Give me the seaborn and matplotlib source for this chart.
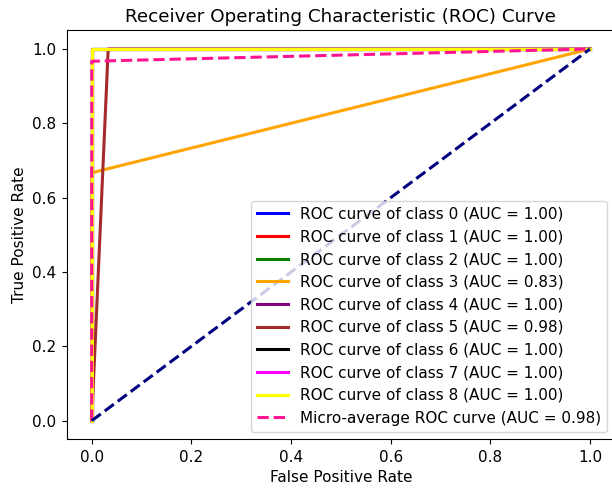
import matplotlib
matplotlib.use("Agg")
import matplotlib.pyplot as plt
import seaborn as sns
import pandas as pd

class_names = ["0", "1", "2", "3", "4", "5", "6", "7", "8"]
class_colors = ["blue", "red", "green", "orange", "purple", "brown", "black", "magenta", "yellow"]
class_auc = [1.00, 1.00, 1.00, 0.83, 1.00, 0.98, 1.00, 1.00, 1.00]
class_fpr = [
    [0.0, 0.0, 1.0],
    [0.0, 0.0, 1.0],
    [0.0, 0.0, 1.0],
    [0.0, 0.0, 1.0],
    [0.0, 0.0, 1.0],
    [0.0, 0.0, 0.033, 1.0],
    [0.0, 0.0, 1.0],
    [0.0, 0.0, 1.0],
    [0.0, 0.0, 1.0],
]
class_tpr = [
    [0.0, 1.0, 1.0],
    [0.0, 1.0, 1.0],
    [0.0, 1.0, 1.0],
    [0.0, 0.667, 1.0],
    [0.0, 1.0, 1.0],
    [0.0, 0.0, 1.0, 1.0],
    [0.0, 1.0, 1.0],
    [0.0, 1.0, 1.0],
    [0.0, 1.0, 1.0],
]
micro_fpr = [0.0, 0.0, 1.0]
micro_tpr = [0.0, 0.967, 1.0]
micro_auc = 0.98
chance_x = [0.0, 1.0]
chance_y = [0.0, 1.0]

plt.rcParams["font.size"] = 11
plt.rcParams["xtick.major.size"] = 3.9
plt.rcParams["ytick.major.size"] = 3.9

fig = plt.figure(figsize=(6.12, 4.91), dpi=100)
ax = fig.add_axes([0.1092, 0.1053, 0.8956, 0.8328])

LW = 2.2
for name, col, auc, fx, ty in zip(class_names, class_colors, class_auc, class_fpr, class_tpr):
    df = pd.DataFrame({"fpr": fx, "tpr": ty})
    sns.lineplot(data=df, x="fpr", y="tpr", ax=ax, color=col, lw=LW,
                 sort=False, estimator=None,
                 label=f"ROC curve of class {name} (AUC = {auc:.2f})")

dfm = pd.DataFrame({"fpr": micro_fpr, "tpr": micro_tpr})
sns.lineplot(data=dfm, x="fpr", y="tpr", ax=ax, color="deeppink", lw=LW,
             linestyle="--", sort=False, estimator=None,
             label=f"Micro-average ROC curve (AUC = {micro_auc:.2f})")

dfc = pd.DataFrame({"x": chance_x, "y": chance_y})
sns.lineplot(data=dfc, x="x", y="y", ax=ax, color="navy", lw=LW, linestyle="--",
             sort=False, estimator=None)

ax.set_xlim(-0.05, 1.05)
ax.set_ylim(-0.05, 1.05)
ax.set_xlabel("False Positive Rate")
ax.set_ylabel("True Positive Rate")
ax.set_title("Receiver Operating Characteristic (ROC) Curve")
ax.legend(loc="lower right")

fig.savefig("out.png", dpi=100)
